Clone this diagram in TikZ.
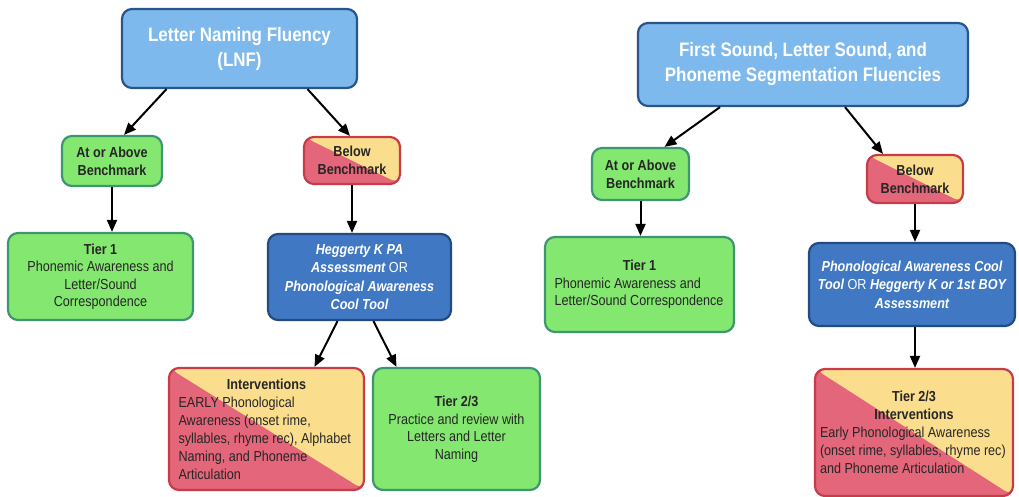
\documentclass[tikz,border=0pt]{standalone}
\usepackage{fontspec}
\setmainfont[FakeStretch=0.87]{Liberation Sans}
\usetikzlibrary{arrows.meta}

\definecolor{topfill}{RGB}{125,185,236}
\definecolor{topline}{RGB}{40,85,140}
\definecolor{greenfill}{RGB}{132,232,112}
\definecolor{greenline}{RGB}{62,150,112}
\definecolor{darkfill}{RGB}{64,120,196}
\definecolor{darkline}{RGB}{35,75,130}
\definecolor{redfill}{RGB}{228,102,122}
\definecolor{yellowfill}{RGB}{250,222,142}
\definecolor{redline}{RGB}{200,60,72}

\begin{document}
\begin{tikzpicture}[x=1pt, y=-1pt,
		box/.style={rounded corners=10pt, line width=2.2pt, inner sep=0pt, align=flush center,
			font=\fontsize{14.5}{17.5}\selectfont},
		topbox/.style={box, fill=topfill, draw=topline, text=white,
			font=\fontsize{19.5}{25}\selectfont\bfseries},
		greenbox/.style={box, fill=greenfill, draw=greenline, text=black!85},
		darkbox/.style={box, fill=darkfill, draw=darkline, text=white,
			font=\fontsize{14.5}{18.5}\selectfont\bfseries\itshape},
		splitbox/.style={box, fill=redfill, draw=redline, text=black!85,
			font=\fontsize{14.5}{18}\selectfont,
			path picture={\fill[yellowfill] (path picture bounding box.north west)
				-- (path picture bounding box.north east)
				-- (path picture bounding box.south east) -- cycle;}},
		tag/.style={font=\fontsize{14.5}{18}\selectfont\bfseries},
		arr/.style={line width=2pt, -{Triangle[length=12pt, width=10pt]}}]
	\useasboundingbox (0,0) rectangle (1019,497);

	% left tree
	\node[topbox, minimum width=235pt, minimum height=79pt] (lnf) at (239.5,48.5)
		{Letter Naming Fluency\\(LNF)};
	\node[greenbox, tag, minimum width=100pt, minimum height=50pt] (aboveL) at (112,161)
		{At or Above\\Benchmark};
	\node[splitbox, tag, minimum width=96pt, minimum height=47pt] (belowL) at (352,160.5)
		{Below\\Benchmark};
	\node[greenbox, minimum width=185pt, minimum height=87pt] (tierL) at (100.5,276.5)
		{\textbf{Tier 1}\\Phonemic Awareness and\\Letter/Sound\\Correspondence};
	\node[darkbox, minimum width=183pt, minimum height=86pt] (hegL) at (359.5,277)
		{Heggerty K PA\\Assessment {\upshape\mdseries OR}\\Phonological Awareness\\Cool Tool};
	\node[splitbox, minimum width=195pt, minimum height=122pt, text width=176pt, align=flush left] (intL) at (266.5,429)
		{\makebox[176pt]{\textbf{Interventions}}\\EARLY Phonological\\Awareness (onset rime,\\syllables, rhyme rec), Alphabet\\Naming, and Phoneme\\Articulation};
	\node[greenbox, minimum width=167pt, minimum height=122pt] (tierTwoL) at (456.5,429)
		{\textbf{Tier 2/3}\\Practice and review with\\Letters and Letter\\Naming};

	\draw[arr] ([xshift=-73pt]lnf.south) -- ([xshift=12pt]aboveL.north);
	\draw[arr] ([xshift=68pt]lnf.south) -- ([xshift=-2pt]belowL.north);
	\draw[arr] (aboveL.south) -- (aboveL.south |- tierL.north);
	\draw[arr] (belowL.south) -- (belowL.south |- hegL.north);
	\draw[arr] ([xshift=-22pt]hegL.south) -- ([xshift=48pt]intL.north);
	\draw[arr] ([xshift=14pt]hegL.south) -- ([xshift=-60pt]tierTwoL.north);

	% right tree
	\node[topbox, minimum width=330pt, minimum height=83pt] (fsf) at (803,64.5)
		{First Sound, Letter Sound, and\\Phoneme Segmentation Fluencies};
	\node[greenbox, tag, minimum width=97pt, minimum height=52pt] (aboveR) at (640.5,174)
		{At or Above\\Benchmark};
	\node[splitbox, tag, minimum width=96pt, minimum height=48pt] (belowR) at (915,179)
		{Below\\Benchmark};
	\node[greenbox, minimum width=189pt, minimum height=95pt, text width=170pt, align=flush left] (tierR) at (639.5,284.5)
		{\makebox[170pt]{\textbf{Tier 1}}\\Phonemic Awareness and\\Letter/Sound Correspondence};
	\node[darkbox, minimum width=206pt, minimum height=83pt] (phonR) at (912,284.5)
		{Phonological Awareness Cool\\Tool {\upshape\mdseries OR} Heggerty K or 1st BOY\\Assessment};
	\node[splitbox, minimum width=198pt, minimum height=127pt, text width=188pt, align=flush left] (tierTwoR) at (914,432.5)
		{\makebox[188pt]{\textbf{Tier 2/3}}\\\makebox[188pt]{\textbf{Interventions}}\\Early Phonological Awareness\\(onset rime, syllables, rhyme rec)\\and Phoneme Articulation};

	\draw[arr] ([xshift=-83pt]fsf.south) -- ([xshift=24pt]aboveR.north);
	\draw[arr] ([xshift=42pt]fsf.south) -- ([xshift=-32pt]belowR.north);
	\draw[arr] (aboveR.south) -- (aboveR.south |- tierR.north);
	\draw[arr] (belowR.south) -- (belowR.south |- phonR.north);
	\draw[arr] (belowR.south |- phonR.south) -- (belowR.south |- tierTwoR.north);
\end{tikzpicture}
\end{document}
